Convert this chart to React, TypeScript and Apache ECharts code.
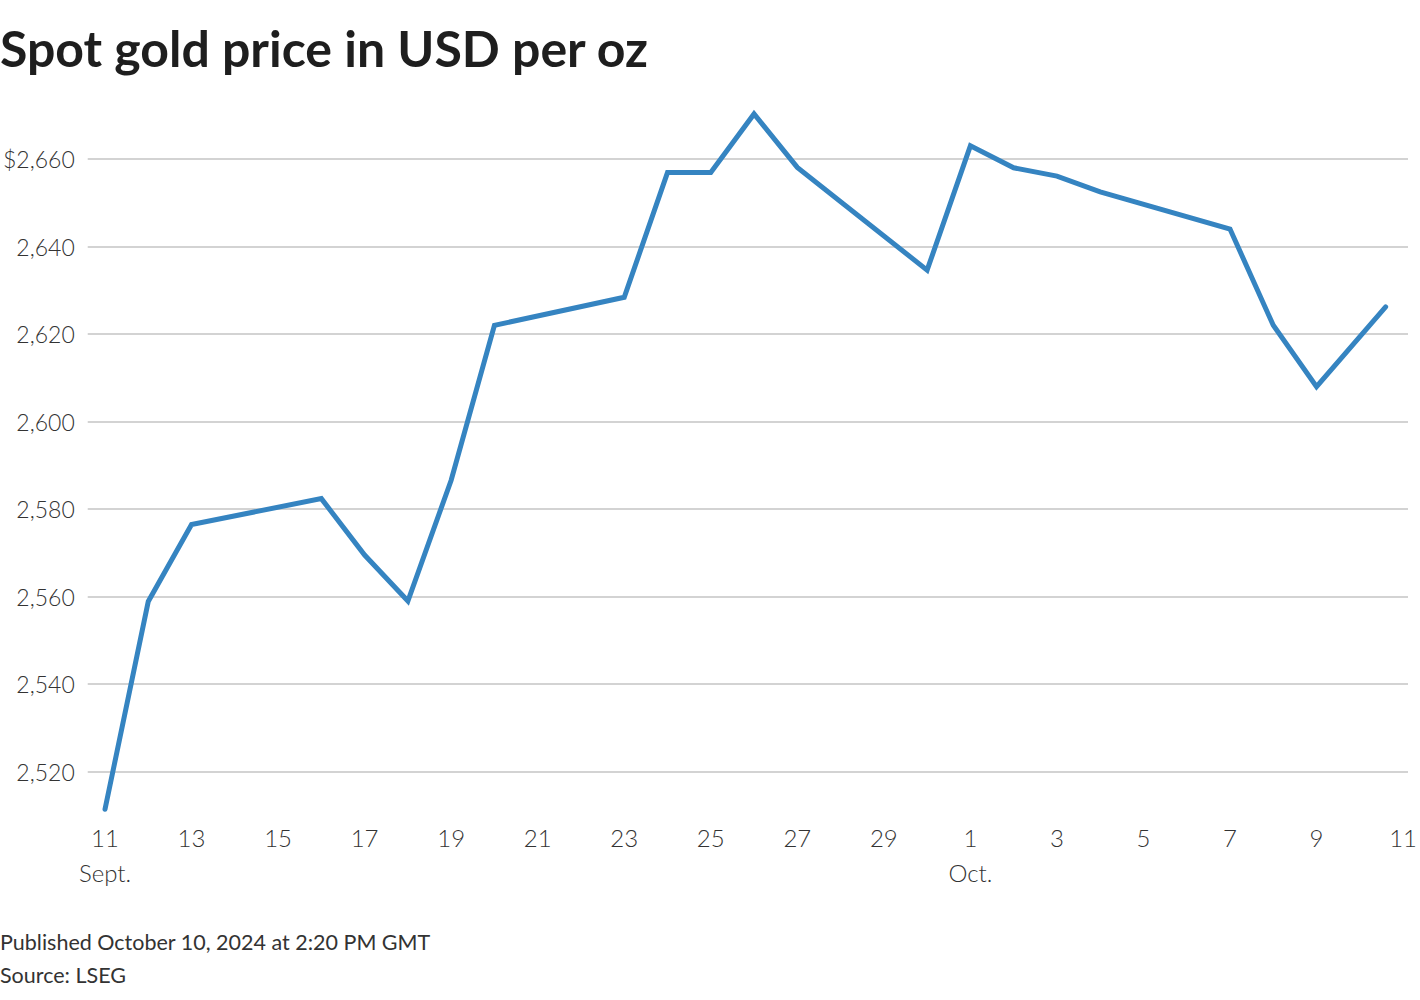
import React, { useEffect, useRef } from "react";
import * as echarts from "echarts";

const dates = [
  "2024-09-11T00:00:00Z", "2024-09-12T00:00:00Z", "2024-09-13T00:00:00Z",
  "2024-09-16T00:00:00Z", "2024-09-17T00:00:00Z", "2024-09-18T00:00:00Z",
  "2024-09-19T00:00:00Z", "2024-09-20T00:00:00Z", "2024-09-23T00:00:00Z",
  "2024-09-24T00:00:00Z", "2024-09-25T00:00:00Z", "2024-09-26T00:00:00Z",
  "2024-09-27T00:00:00Z", "2024-09-30T00:00:00Z", "2024-10-01T00:00:00Z",
  "2024-10-02T00:00:00Z", "2024-10-03T00:00:00Z", "2024-10-04T00:00:00Z",
  "2024-10-07T00:00:00Z", "2024-10-08T00:00:00Z", "2024-10-09T00:00:00Z",
  "2024-10-10T14:20:00Z",
];
const prices = [
  2511.4, 2558.9, 2576.5, 2582.4, 2569.5, 2559.0, 2586.6, 2622.0, 2628.4,
  2656.9, 2656.9, 2670.3, 2658.1, 2634.6, 2663.0, 2658.0, 2656.1, 2652.5,
  2644.0, 2622.0, 2608.0, 2626.2,
];
// x ticks every 2 days starting Sept 11 (day 0) through Oct 11 (day 30)
const xTickLabels = [
  "11\nSept.", "13", "15", "17", "19", "21", "23", "25", "27", "29",
  "1\nOct.", "3", "5", "7", "9", "11",
];
const xMinDay = 0;
const xMaxDay = 30;
const xStepDays = 2;
const yMin = 2500;
const yMax = 2680;
const yStep = 20;

const title = "Spot gold price in USD per oz";
const published = "Published October 10, 2024 at 2:20 PM GMT";
const source = "Source: LSEG";

const FONT = "Lato, 'Source Sans Pro', 'Noto Sans', sans-serif";
const t0 = Date.parse(dates[0]);
const toDay = (s: string) => (Date.parse(s) - t0) / 864e5;

export default function App() {
  const ref = useRef<HTMLDivElement>(null);
  useEffect(() => {
    document.body.style.margin = "0";
    if (!ref.current) return;
    const chart = echarts.init(ref.current, undefined, { renderer: "svg" });
    const top = 71.5;
    const bottom = 140.8;
    chart.setOption({
      animation: false,
      backgroundColor: "#ffffff",
      grid: [
        { left: 86, right: 12, top, bottom },
        { left: 105, right: 11, top, bottom },
      ],
      xAxis: [
        { gridIndex: 0, type: "value", min: 0, max: 1, show: false },
        {
          gridIndex: 1,
          type: "value",
          min: xMinDay,
          max: xMaxDay,
          interval: xStepDays,
          offset: -39,
          axisLine: { show: false },
          axisTick: { show: false },
          splitLine: { show: false },
          axisLabel: {
            margin: 0,
            fontFamily: FONT,
            fontSize: 24,
            fontWeight: 300,
            color: "#333333",
            lineHeight: 35,
            formatter: (v: number) =>
              xTickLabels[Math.round((v - xMinDay) / xStepDays)] ?? "",
          },
        },
      ],
      yAxis: [
        {
          gridIndex: 0,
          type: "value",
          min: yMin,
          max: yMax,
          interval: yStep,
          axisLine: { show: false },
          axisTick: { show: false },
          splitLine: {
            show: true,
            showMinLine: false,
            showMaxLine: false,
            lineStyle: { color: "#c4c4c4", width: 1.5 },
          },
          axisLabel: {
            showMinLabel: false,
            showMaxLabel: false,
            margin: 13,
            fontFamily: FONT,
            fontSize: 23,
            fontWeight: 300,
            color: "#333333",
            formatter: (v: number) => {
              const s = v.toLocaleString("en-US");
              return v === yMax - yStep ? "$" + s : s;
            },
          },
        },
        {
          gridIndex: 1,
          type: "value",
          min: yMin,
          max: yMax,
          interval: yStep,
          show: false,
          splitLine: { show: false },
        },
      ],
      series: [
        {
          type: "line",
          xAxisIndex: 1,
          yAxisIndex: 1,
          data: dates.map((d, i) => [toDay(d), prices[i]]),
          showSymbol: false,
          lineStyle: { color: "#3584c1", width: 5, cap: "round", join: "miter" },
          itemStyle: { color: "#3584c1" },
        },
      ],
      graphic: [
        {
          type: "text",
          left: 0,
          top: 23,
          style: { text: title, font: `bold 50px ${FONT}`, fill: "#1e1e1e" },
        },
        {
          type: "text",
          left: 0,
          top: 931,
          style: { text: published, font: `21.5px ${FONT}`, fill: "#333333" },
        },
        {
          type: "text",
          left: 0,
          top: 964,
          style: { text: source, font: `21.5px ${FONT}`, fill: "#333333" },
        },
      ],
    });
    return () => chart.dispose();
  }, []);
  return <div ref={ref} style={{ width: 1420, height: 1000 }} />;
}
